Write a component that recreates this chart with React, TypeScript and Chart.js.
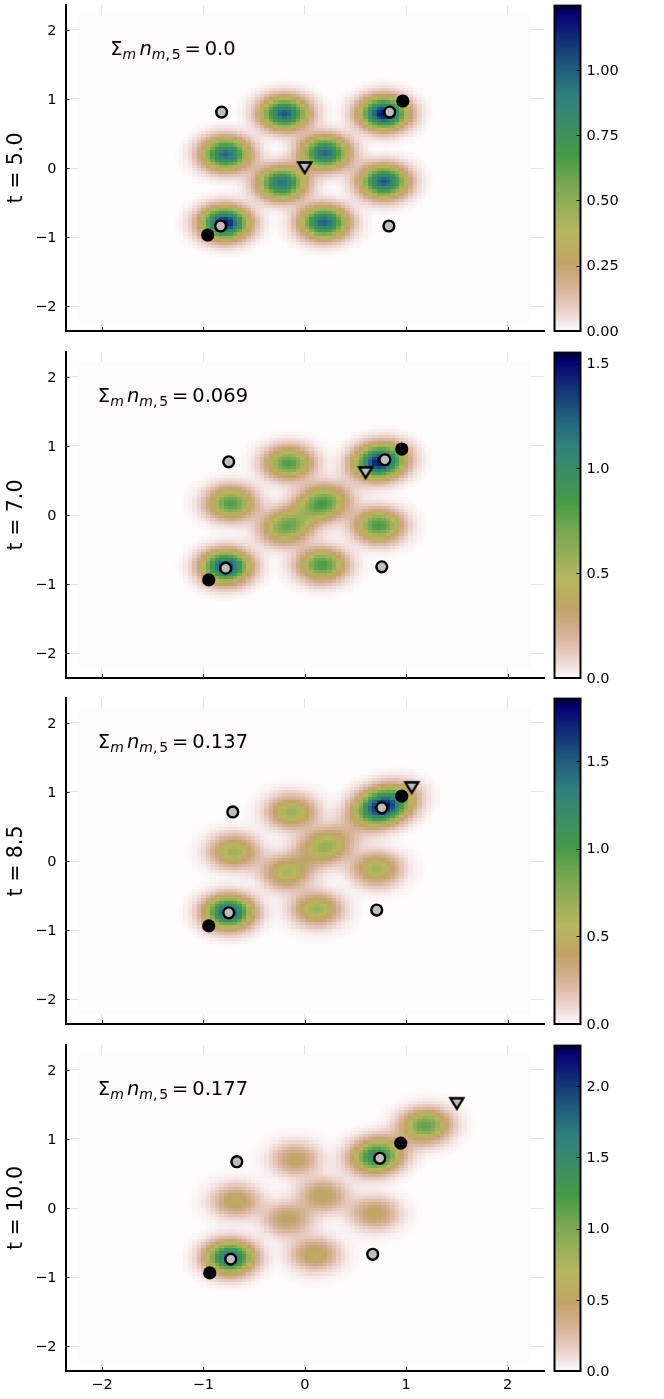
import React, { useEffect, useRef } from "react";
import { Chart, registerables } from "chart.js";

Chart.register(...registerables);

const timeLabels = ["t = 5.0", "t = 7.0", "t = 8.5", "t = 10.0"];
const annotationValues = ["0.0", "0.069", "0.137", "0.177"];
const axisTicks = [-2, -1, 0, 1, 2];

const colorMax = [1.248, 1.555, 1.86, 2.29];
const colorTicks = [
  [0, 0.25, 0.5, 0.75, 1.0],
  [0, 0.5, 1.0, 1.5],
  [0, 0.5, 1.0, 1.5],
  [0, 0.5, 1.0, 1.5, 2.0],
];
const colorDecimals = [2, 1, 1, 1];

const blackX = [[0.967, -0.957], [0.957, -0.947], [0.957, -0.947], [0.947, -0.937]];
const blackY = [[0.97, -0.97], [0.955, -0.94], [0.94, -0.94], [0.94, -0.94]];
const greyX = [
  [-0.82, 0.838, -0.83, 0.83],
  [-0.75, 0.79, -0.78, 0.76],
  [-0.71, 0.76, -0.75, 0.71],
  [-0.67, 0.74, -0.73, 0.67],
];
const greyY = [
  [0.81, 0.81, -0.84, -0.84],
  [0.77, 0.8, -0.77, -0.75],
  [0.71, 0.77, -0.75, -0.71],
  [0.67, 0.72, -0.74, -0.67],
];
const triangleX = [0.0, 0.6, 1.055, 1.5];
const triangleY = [0.0, 0.61, 1.06, 1.51];

// Density blobs: centre, peak height, and stretch along the diagonal.
const blobX = [
  [-0.2, 0.78, -0.78, 0.2, -0.23, 0.78, -0.79, 0.19],
  [-0.16, 0.74, -0.73, 0.17, -0.18, 0.73, -0.78, 0.17],
  [-0.13, 0.77, -0.7, 0.2, -0.18, 0.71, -0.75, 0.12],
  [1.19, 0.71, -0.09, -0.68, 0.18, -0.17, 0.69, -0.74, 0.1],
];
const blobY = [
  [0.79, 0.79, 0.2, 0.22, -0.22, -0.2, -0.8, -0.79],
  [0.75, 0.77, 0.17, 0.17, -0.17, -0.155, -0.75, -0.725],
  [0.71, 0.79, 0.135, 0.21, -0.17, -0.116, -0.745, -0.7],
  [1.19, 0.75, 0.705, 0.1, 0.18, -0.165, -0.08, -0.72, -0.67],
];
const blobPeak = [
  [1.02, 1.2, 0.98, 0.98, 0.95, 1.02, 1.2, 1.0],
  [0.82, 1.5, 0.82, 0.85, 0.75, 0.85, 1.38, 0.85],
  [0.7, 1.85, 0.68, 0.72, 0.62, 0.66, 1.6, 0.68],
  [1.15, 1.55, 0.52, 0.58, 0.56, 0.52, 0.54, 1.85, 0.6],
];
const blobStretch = [
  [1, 1, 1, 1, 1, 1, 1, 1],
  [1, 1.1, 1, 1.15, 1.1, 1, 1, 1],
  [1, 1.3, 1, 1.25, 1, 1, 1, 1],
  [1.05, 1.1, 1, 1, 1, 1, 1, 1, 1],
];

const profileRadius = [0, 0.05, 0.1, 0.15, 0.2, 0.25, 0.3, 0.35, 0.4, 0.45, 0.5];
const profileHeight = [1, 0.945, 0.8, 0.607, 0.41, 0.25, 0.135, 0.066, 0.029, 0.011, 0];

const heatMin = -2.222;
const heatMax = 2.222;
const heatCells = 100;

// gist_earth, reversed at lookup
const redStops = [[0, 0], [0.2824, 0.1882], [0.4588, 0.2714], [0.549, 0.4719], [0.698, 0.7176], [0.7882, 0.7553], [1, 0.9922]];
const greenStops = [[0, 0], [0.0275, 0], [0.1098, 0.1893], [0.1647, 0.3035], [0.2078, 0.3841], [0.2824, 0.502], [0.5216, 0.6397], [0.698, 0.7171], [0.7882, 0.6392], [0.8157, 0.6549], [0.8667, 0.6991], [0.898, 0.7431], [0.9412, 0.8275], [0.9647, 0.8816], [1, 0.9843]];
const blueStops = [[0, 0], [0.0039, 0.1684], [0.0078, 0.2212], [0.0275, 0.4329], [0.0314, 0.4549], [0.2824, 0.5004], [0.4667, 0.2748], [0.5451, 0.3205], [0.7843, 0.3961], [0.8941, 0.6651], [1, 0.9843]];

const FONT = '"DejaVu Sans"';
const panelTops = [5, 352, 698, 1044.5];
const panelHeight = 326;
const MARKER_GREY = "#bdbdbd";

function lookup(stops: number[][], t: number) {
  for (let i = 1; i < stops.length; i++) {
    if (t <= stops[i][0]) {
      const [a, va] = stops[i - 1];
      const [b, vb] = stops[i];
      return va + ((vb - va) * (t - a)) / (b - a);
    }
  }
  return stops[stops.length - 1][1];
}

function earth(v: number) {
  const t = 1 - Math.min(1, Math.max(0, v));
  const c = [redStops, greenStops, blueStops].map((s) => Math.round(lookup(s, t) * 255));
  return `rgb(${c[0]},${c[1]},${c[2]})`;
}

function profile(r: number) {
  for (let i = 1; i < profileRadius.length; i++) {
    if (r < profileRadius[i]) {
      const f = (r - profileRadius[i - 1]) / (profileRadius[i] - profileRadius[i - 1]);
      return profileHeight[i - 1] + f * (profileHeight[i] - profileHeight[i - 1]);
    }
  }
  return 0;
}

function density(p: number, x: number, y: number) {
  let sum = 0;
  blobX[p].forEach((bx, i) => {
    const dx = x - bx;
    const dy = y - blobY[p][i];
    const u = (dx + dy) / Math.SQRT2 / blobStretch[p][i];
    const v = (dx - dy) / Math.SQRT2;
    sum += blobPeak[p][i] * profile(Math.hypot(u, v));
  });
  return sum;
}

function triangleMarker() {
  const c = document.createElement("canvas");
  c.width = 20;
  c.height = 20;
  const g = c.getContext("2d")!;
  g.beginPath();
  g.moveTo(3.5, 4.5);
  g.lineTo(16.5, 4.5);
  g.lineTo(10, 15);
  g.closePath();
  g.fillStyle = MARKER_GREY;
  g.fill();
  g.strokeStyle = "#000";
  g.lineWidth = 2.3;
  g.lineJoin = "miter";
  g.stroke();
  return c;
}

const heatPlugin = (p: number) => ({
  id: "heat",
  beforeDatasetsDraw(chart: any) {
    const { ctx, scales } = chart;
    const step = (heatMax - heatMin) / heatCells;
    ctx.save();
    for (let i = 0; i < heatCells; i++) {
      const x0 = Math.round(scales.x.getPixelForValue(heatMin + i * step));
      const x1 = Math.round(scales.x.getPixelForValue(heatMin + (i + 1) * step));
      for (let j = 0; j < heatCells; j++) {
        const y0 = Math.round(scales.y.getPixelForValue(heatMin + (j + 1) * step));
        const y1 = Math.round(scales.y.getPixelForValue(heatMin + j * step));
        const v = density(p, heatMin + (i + 0.5) * step, heatMin + (j + 0.5) * step);
        ctx.fillStyle = earth(v / colorMax[p]);
        ctx.fillRect(x0, y0, x1 - x0, y1 - y0);
      }
    }
    ctx.restore();
  },
  afterDatasetsDraw(chart: any) {
    const { ctx, scales, chartArea } = chart;
    ctx.save();
    ctx.strokeStyle = "#222";
    ctx.lineWidth = 1;
    axisTicks.forEach((t) => {
      const px = Math.round(scales.x.getPixelForValue(t)) + 0.5;
      ctx.beginPath();
      ctx.moveTo(px, chartArea.bottom);
      ctx.lineTo(px, chartArea.bottom - 4);
      ctx.stroke();
      const py = Math.round(scales.y.getPixelForValue(t)) + 0.5;
      ctx.beginPath();
      ctx.moveTo(chartArea.left, py);
      ctx.lineTo(chartArea.left + 4, py);
      ctx.stroke();
    });
    // the annotation, set piece by piece as math
    const big = 19.5;
    const small = 14;
    const pieces: [string, string, number, number][] = [
      ["Σ", "", big, 0],
      ["m", "italic ", small, 4],
      [" ", "", 10, 0],
      ["n", "italic ", big, 0],
      ["m", "italic ", small, 4],
      [",", "", small, 4],
      [" ", "", 6, 4],
      ["5", "", small, 4],
      [" ", "", 12, 0],
      ["=", "", big, 0],
      [" ", "", 12, 0],
      [annotationValues[p], "", big, 0],
    ];
    const font = (s: string, size: number) => `${s}${size}px ${FONT}`;
    let width = 0;
    pieces.forEach(([t, s, size]) => {
      ctx.font = font(s, size);
      width += ctx.measureText(t).width;
    });
    let x = scales.x.getPixelForValue(-1.3) - width / 2;
    const y = scales.y.getPixelForValue(1.64);
    ctx.fillStyle = "#000";
    ctx.textAlign = "left";
    ctx.textBaseline = "alphabetic";
    pieces.forEach(([t, s, size, dy]) => {
      ctx.font = font(s, size);
      ctx.fillText(t, x, y + dy);
      x += ctx.measureText(t).width;
    });
    ctx.restore();
  },
});

const barPlugin = (p: number) => ({
  id: "bar",
  beforeDatasetsDraw(chart: any) {
    const { ctx, scales, chartArea } = chart;
    const n = 256;
    ctx.save();
    for (let i = 0; i < n; i++) {
      const y0 = Math.round(scales.y.getPixelForValue(((i + 1) / n) * colorMax[p]));
      const y1 = Math.round(scales.y.getPixelForValue((i / n) * colorMax[p]));
      ctx.fillStyle = earth((i + 0.5) / n);
      ctx.fillRect(chartArea.left, y0, chartArea.right - chartArea.left, Math.max(1, y1 - y0));
    }
    ctx.strokeStyle = "#000";
    ctx.lineWidth = 2;
    ctx.beginPath();
    ctx.moveTo(chartArea.left, chartArea.top);
    ctx.lineTo(chartArea.left, chartArea.bottom);
    ctx.lineTo(chartArea.right, chartArea.bottom);
    ctx.lineTo(chartArea.right, chartArea.top);
    ctx.stroke();
    ctx.strokeStyle = "#999";
    ctx.lineWidth = 1;
    ctx.beginPath();
    ctx.moveTo(chartArea.left - 1, chartArea.top - 0.5);
    ctx.lineTo(chartArea.right + 1, chartArea.top - 0.5);
    ctx.stroke();
    ctx.strokeStyle = "#000";
    ctx.lineWidth = 1;
    colorTicks[p].forEach((t) => {
      const py = Math.round(scales.y.getPixelForValue(t)) + 0.5;
      ctx.beginPath();
      ctx.moveTo(chartArea.right, py);
      ctx.lineTo(chartArea.right - 4, py);
      ctx.stroke();
    });
    ctx.restore();
  },
});

const minus = (v: number) => String(v).replace("-", "\u2212");

function Panel({ p }: { p: number }) {
  const mainRef = useRef<HTMLCanvasElement>(null);
  const barRef = useRef<HTMLCanvasElement>(null);

  useEffect(() => {
    document.body.style.margin = "0";
    const main = new Chart(mainRef.current!, {
      type: "scatter",
      data: {
        datasets: [
          {
            data: [{ x: triangleX[p], y: triangleY[p] }],
            pointStyle: triangleMarker(),
            pointRadius: 7,
            order: 0,
          },
          {
            data: greyX[p].map((x, i) => ({ x, y: greyY[p][i] })),
            pointRadius: 5.4,
            backgroundColor: MARKER_GREY,
            borderColor: "#000",
            borderWidth: 2.4,
            order: 1,
          },
          {
            data: blackX[p].map((x, i) => ({ x, y: blackY[p][i] })),
            pointRadius: 6.6,
            backgroundColor: "#000",
            borderColor: "#000",
            borderWidth: 0,
            order: 2,
          },
        ],
      },
      options: {
        animation: false,
        responsive: false,
        layout: { autoPadding: false, padding: { top: 5, right: 8, left: 0, bottom: 0 } },
        plugins: { legend: { display: false }, tooltip: { enabled: false } },
        scales: {
          x: {
            type: "linear",
            min: -2.36,
            max: 2.36,
            afterBuildTicks: (s: any) => {
              s.ticks = axisTicks.map((value) => ({ value }));
            },
            afterFit: (s: any) => {
              s.height = 35;
              s.paddingLeft = 0;
              s.paddingRight = 0;
            },
            grid: { color: "rgba(0,0,0,0.1)", lineWidth: 1, drawTicks: false },
            border: { display: true, color: "#000", width: 2 },
            ticks: {
              display: p === 3,
              color: "#000",
              padding: 6,
              maxRotation: 0,
              font: { family: FONT, size: 14.5 },
              callback: (v: any) => minus(v),
            },
          },
          y: {
            type: "linear",
            min: -2.36,
            max: 2.36,
            afterBuildTicks: (s: any) => {
              s.ticks = axisTicks.map((value) => ({ value }));
            },
            afterFit: (s: any) => {
              s.width = 65.5;
              s.paddingTop = 0;
              s.paddingBottom = 0;
            },
            grid: { color: "rgba(0,0,0,0.1)", lineWidth: 1, drawTicks: false },
            border: { display: true, color: "#000", width: 2 },
            title: {
              display: true,
              text: timeLabels[p],
              color: "#000",
              font: { family: FONT, size: 20.5 },
              padding: { top: 4, bottom: 0 },
            },
            ticks: {
              color: "#000",
              padding: 9,
              labelOffset: 1,
              font: { family: FONT, size: 14.5 },
              callback: (v: any) => minus(v),
            },
          },
        },
      },
      plugins: [heatPlugin(p)],
    } as any);

    const bar = new Chart(barRef.current!, {
      type: "scatter",
      data: { datasets: [{ data: [] }] },
      options: {
        animation: false,
        responsive: false,
        layout: { autoPadding: false, padding: { top: 5, left: 3.5, right: 0, bottom: 35 } },
        plugins: { legend: { display: false }, tooltip: { enabled: false } },
        scales: {
          x: {
            type: "linear",
            display: false,
            min: 0,
            max: 1,
          },
          y: {
            type: "linear",
            position: "right",
            min: 0,
            max: colorMax[p],
            afterBuildTicks: (s: any) => {
              s.ticks = colorTicks[p].map((value) => ({ value }));
            },
            afterFit: (s: any) => {
              s.width = 83.5;
              s.paddingTop = 0;
              s.paddingBottom = 0;
            },
            grid: { display: false, drawTicks: false },
            border: { display: false },
            ticks: {
              color: "#000",
              padding: 6,
              labelOffset: 1,
              font: { family: FONT, size: 14.5 },
              callback: (v: any) => Number(v).toFixed(colorDecimals[p]),
            },
          },
        },
      },
      plugins: [barPlugin(p)],
    } as any);

    return () => {
      main.destroy();
      bar.destroy();
    };
  }, [p]);

  const top = panelTops[p] - 5;
  const height = panelHeight + 5 + 35;
  return (
    <>
      <canvas
        ref={mainRef}
        width={552}
        height={height}
        style={{ position: "absolute", left: 0, top, width: 552, height }}
      />
      <canvas
        ref={barRef}
        width={113}
        height={height}
        style={{ position: "absolute", left: 551, top, width: 113, height }}
      />
    </>
  );
}

export default function App() {
  return (
    <div style={{ position: "relative", width: 664, height: 1399, overflow: "hidden", background: "#fff" }}>
      {timeLabels.map((_, p) => (
        <Panel key={p} p={p} />
      ))}
    </div>
  );
}
